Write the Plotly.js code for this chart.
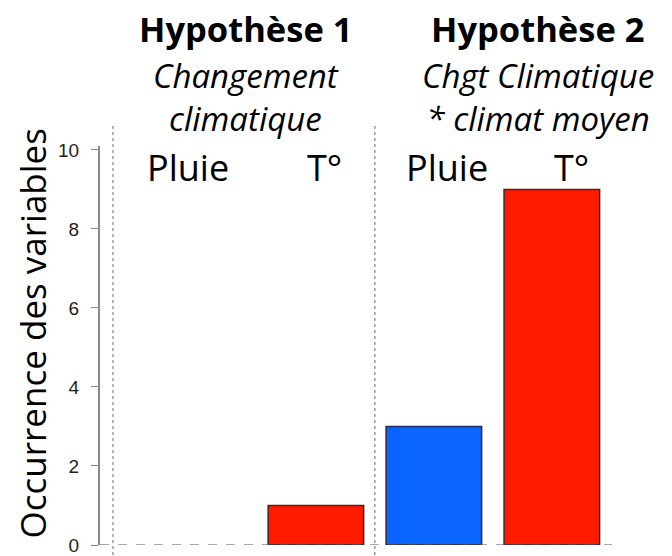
<!DOCTYPE html>
<html>
<head>
<meta charset="utf-8">
<script src="https://cdn.plot.ly/plotly-3.0.1.min.js"></script>
<style>html,body{margin:0;padding:0;background:#fff;}#chart{width:672px;height:556px;}</style>
</head>
<body>
<div id="chart"></div>
<script>
// Data
var categories = ["H1 Pluie", "H1 T°", "H2 Pluie", "H2 T°"];
var variableLabels = ["Pluie", "T°", "Pluie", "T°"];
var occurrences = [0, 1, 3, 9];
var barColors = ["#0a64ff", "#ff1a00", "#0a64ff", "#ff1a00"];
var yTicks = [0, 2, 4, 6, 8, 10];
var hypothesisTitles = ["Hypothèse 1", "Hypothèse 2"];
var hypothesisSubtitles = [["Changement", "climatique"], ["Chgt Climatique", "* climat moyen"]];

var FONT = "Open Sans, Noto Sans, sans-serif";

var trace = {
  type: "bar",
  x: categories,
  y: occurrences,
  marker: {color: barColors, line: {color: "#3a2a2a", width: occurrences.map(function (v) { return v > 0 ? 1.5 : 0; })}},
  hoverinfo: "skip",
  showlegend: false
};

var ann = [];
var hx = [0.285, 0.855];
for (var i = 0; i < 2; i++) {
  ann.push({xref: "paper", yref: "paper", x: hx[i], y: 1.295, text: "<b>" + hypothesisTitles[i] + "</b>",
    showarrow: false, xanchor: "center", yanchor: "middle", font: {family: FONT, size: 34.5, color: "#000"}});
  ann.push({xref: "paper", yref: "paper", x: hx[i], y: 1.123,
    text: "<i>" + hypothesisSubtitles[i][0] + "</i><br><i>" + hypothesisSubtitles[i][1] + "</i>",
    showarrow: false, xanchor: "center", yanchor: "middle", align: "center",
    font: {family: FONT, size: 33, color: "#000"}});
}
var lx = [0.172, 0.439, 0.678, 0.92];
for (var j = 0; j < variableLabels.length; j++) {
  ann.push({xref: "paper", yref: "paper", x: lx[j], y: 0.945, text: variableLabels[j],
    showarrow: false, xanchor: "center", yanchor: "middle", font: {family: FONT, size: 36, color: "#000"}});
}
ann.push({xref: "paper", yref: "paper", x: -0.131, y: 0.53, text: "Occurrence des variables", textangle: -90,
  showarrow: false, xanchor: "center", yanchor: "middle", font: {family: FONT, size: 35, color: "#000"}});

var shapes = [
  {type: "line", xref: "paper", yref: "y", x0: 0, x1: 1, y0: 0, y1: 0, line: {color: "#555", width: 1.2, dash: "dash"}},
  {type: "line", xref: "x", yref: "paper", x0: -0.72, x1: -0.72, y0: -0.025, y1: 1.05, line: {color: "#666", width: 1, dash: "dot"}},
  {type: "line", xref: "x", yref: "paper", x0: 1.5, x1: 1.5, y0: -0.025, y1: 1.05, line: {color: "#666", width: 1, dash: "dot"}}
];

var layout = {
  width: 672, height: 556,
  margin: {l: 100, r: 60, t: 146, b: 11},
  paper_bgcolor: "#fff", plot_bgcolor: "#fff",
  bargap: 0.19,
  xaxis: {type: "category", range: [-0.83, 3.51], showticklabels: false, ticks: "", showgrid: false, zeroline: false, showline: false, fixedrange: true},
  yaxis: {range: [0, 10.1], tickvals: yTicks, ticktext: yTicks.map(String), showgrid: false, zeroline: false,
    showline: true, linecolor: "#888", linewidth: 2, ticks: "outside", ticklen: 7, tickcolor: "#888", tickwidth: 1,
    ticklabelstandoff: 8, ticklabeloverflow: "allow",
    tickfont: {family: "Liberation Sans, Arial, sans-serif", size: 19, color: "#222"}},
  annotations: ann,
  shapes: shapes
};

Plotly.newPlot("chart", [trace], layout, {displayModeBar: false, staticPlot: true});
</script>
</body>
</html>
